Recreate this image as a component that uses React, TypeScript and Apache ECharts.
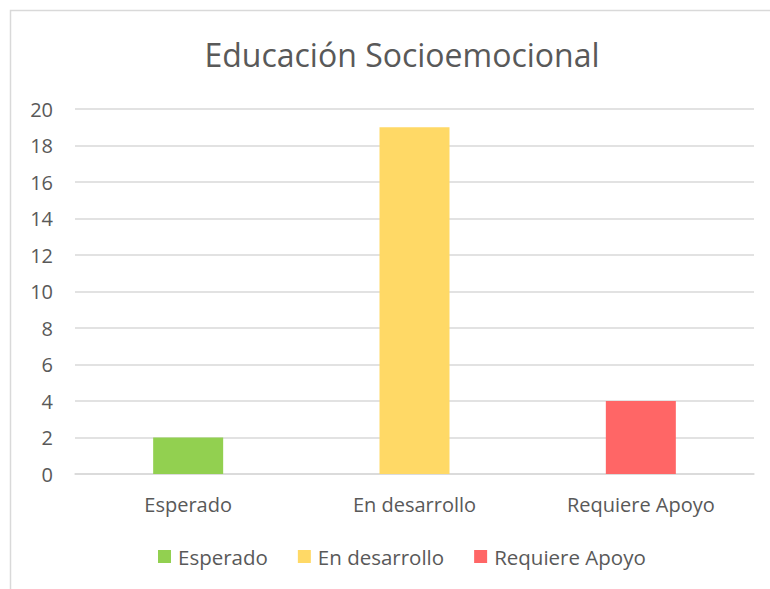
import React, { useEffect, useRef } from "react";
import * as echarts from "echarts";

const categories = ["Esperado", "En desarrollo", "Requiere Apoyo"];
const values = [2, 19, 4];
const colors = ["#92D050", "#FFD966", "#FF6666"];
const yTicks = { min: 0, max: 20, interval: 2 };

export default function App() {
  const ref = useRef<HTMLDivElement>(null);
  useEffect(() => {
    const chart = echarts.init(ref.current!, null, { renderer: "svg" });
    const font = "'Open Sans', 'Noto Sans', sans-serif";
    const series = categories.map((name, i) => ({
      name,
      type: "bar",
      stack: "all",
      barWidth: 70,
      itemStyle: { color: colors[i] },
      data: categories.map((_, j) => (j === i ? values[i] : null)),
    }));
    chart.setOption({
      animation: false,
      textStyle: { fontFamily: font },
      title: {
        text: "Educación Socioemocional",
        left: 397,
        textAlign: "center",
        top: 33,
        textStyle: { fontSize: 32, fontWeight: "normal", color: "#595959", fontFamily: font },
      },
      graphic: [
        {
          type: "rect",
          shape: { x: 10.5, y: 10.5, width: 800, height: 700 },
          style: { fill: "none", stroke: "#d9d9d9", lineWidth: 1.5 },
          silent: true,
        },
      ],
      legend: {
        bottom: 17,
        left: 153,
        itemWidth: 13,
        itemHeight: 13,
        itemGap: 30,
        icon: "rect",
        textStyle: { fontSize: 20.5, color: "#595959", fontFamily: font, padding: [0, 0, 0, 2] },
        data: categories,
      },
      grid: { left: 75, right: 16, top: 109, bottom: 589 - 474 },
      xAxis: {
        type: "category",
        data: categories,
        axisLine: { show: true, lineStyle: { color: "#d9d9d9", width: 1.5 } },
        axisTick: { show: false },
        axisLabel: { fontSize: 20, color: "#595959", margin: 20, fontFamily: font },
      },
      yAxis: {
        type: "value",
        min: yTicks.min,
        max: yTicks.max,
        interval: yTicks.interval,
        axisLine: { show: false },
        axisTick: { show: false },
        splitLine: { lineStyle: { color: "#d9d9d9", width: 1.5 } },
        axisLabel: { fontSize: 20, color: "#595959", margin: 22, fontFamily: font },
      },
      series,
    });
    return () => chart.dispose();
  }, []);
  return (
    <div
      ref={ref}
      style={{ position: "absolute", left: 0, top: 0, width: 770, height: 589, background: "#fff" }}
    />
  );
}
